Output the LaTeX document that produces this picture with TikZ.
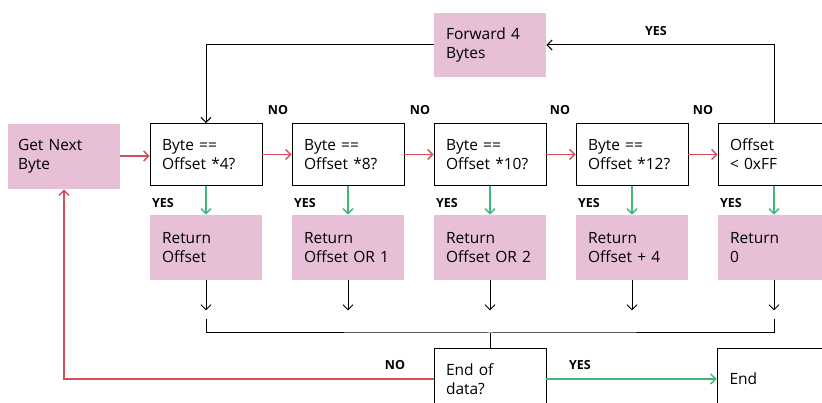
\documentclass[tikz,border=0pt]{standalone}
\usepackage{fontspec}
\setmainfont{Open Sans}
\usetikzlibrary{arrows.meta,calc}
\definecolor{pinkf}{HTML}{E7C0D8}
\definecolor{redl}{HTML}{D64E5A}
\definecolor{greenl}{HTML}{3DB87A}
\begin{document}
\begin{tikzpicture}[x=1pt,y=-1pt,
 box/.style={rectangle, draw=black, line width=0.9pt, minimum width=112pt, minimum height=62pt, text width=88pt, inner xsep=12pt, align=left, font=\fontsize{15.5}{19}\selectfont},
 pbox/.style={box, draw=none, fill=pinkf, minimum height=65pt},
 lab/.style={font=\bfseries\fontsize{12.5}{13}\selectfont, inner sep=0pt},
 arr/.style={line width=1pt, -{Straight Barb[length=5pt,width=10pt]}},
 carr/.style={arr, line width=1.3pt},
 ln/.style={line width=1pt}
]
\useasboundingbox (0,0) rectangle (822,403);
\node[pbox, inner xsep=10pt, text width=92pt] (get) at (64,156.5) {Get Next\\Byte};
\node[box] (d1) at (206,154.5) {Byte ==\\Offset *4?};
\node[box] (d2) at (348,154.5) {Byte ==\\Offset *8?};
\node[box] (d3) at (490,154.5) {Byte ==\\Offset *10?};
\node[box] (d4) at (632,154.5) {Byte ==\\Offset *12?};
\node[box] (d5) at (774,154.5) {Offset\\< 0xFF};
\node[pbox, minimum height=64pt] (fwd) at (490,45) {Forward 4\\Bytes};
\node[pbox] (r1) at (206,247.5) {Return\\Offset};
\node[pbox] (r2) at (348,247.5) {Return\\Offset OR 1};
\node[pbox] (r3) at (490,247.5) {Return\\Offset OR 2};
\node[pbox] (r4) at (632,247.5) {Return\\Offset + 4};
\node[pbox] (r5) at (774,247.5) {Return\\0};
\node[box] (eod) at (490,379) {End of\\data?};
\node[box, minimum width=113pt] (end) at (773.5,379) {End};
% no arrows
\draw[carr,redl] (get.east |- 0,156) -- (d1.west |- 0,156);
\draw[carr,redl] (d1.east) -- (d2.west);
\draw[carr,redl] (d2.east) -- (d3.west);
\draw[carr,redl] (d3.east) -- (d4.west);
\draw[carr,redl] (d4.east) -- (d5.west);
% yes arrows
\foreach \i in {1,...,5} {
  \draw[carr,greenl] (d\i.south) -- (r\i.north);
  \coordinate (t\i) at ($(r\i.south)+(0,30)$);
  \draw[arr] (r\i.south) -- (t\i);
}
% loop
\draw[arr] (d5.north) |- (fwd.east);
\draw[arr] (fwd.west) -| (d1.north);
% merge
\coordinate (m1) at (206,319);
\coordinate (m5) at (774,319);
\coordinate (j) at (490,333);
\draw[ln] (m1) |- (j) -| (m5);
\draw[ln] (j) -- (eod.north);
\draw[carr,greenl] (eod.east) -- (end.west);
\draw[carr,redl] (eod.west) -| (get.south);
% labels
\node[lab] at (278,110) {NO};
\node[lab] at (420,110) {NO};
\node[lab] at (560,110) {NO};
\node[lab] at (703,110) {NO};
\node[lab] at (656,31) {YES};
\foreach \x in {163,305,447,589,731} \node[lab] at (\x,203) {YES};
\node[lab] at (395,365) {NO};
\node[lab] at (580,365) {YES};
\end{tikzpicture}
\end{document}
